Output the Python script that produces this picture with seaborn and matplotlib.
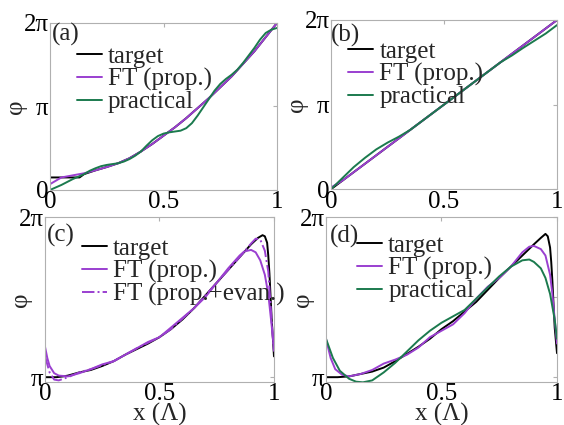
import numpy as np
import pandas as pd
import matplotlib
matplotlib.use("Agg")
import matplotlib.pyplot as plt
import seaborn as sns

# ---------------- data (phase values in units of pi) ----------------
x21 = [0, 0.05, 0.1, 0.15, 0.2, 0.25, 0.3, 0.35, 0.4, 0.45, 0.5,
       0.55, 0.6, 0.65, 0.7, 0.75, 0.8, 0.85, 0.9, 0.95, 1.0]
x41 = [0, 0.025, 0.05, 0.075, 0.1, 0.125, 0.15, 0.175, 0.2, 0.225, 0.25,
       0.275, 0.3, 0.325, 0.35, 0.375, 0.4, 0.425, 0.45, 0.475, 0.5,
       0.525, 0.55, 0.575, 0.6, 0.625, 0.65, 0.675, 0.7, 0.725, 0.75,
       0.775, 0.8, 0.825, 0.85, 0.875, 0.9, 0.925, 0.95, 0.975, 1.0]

# panel (a)
xa_target = [0, 0.13] + x21[3:]
target_a = [0.15, 0.15, 0.19, 0.235, 0.275, 0.32, 0.38, 0.46, 0.55, 0.65,
            0.75, 0.86, 0.98, 1.10, 1.23, 1.36, 1.51, 1.66, 1.83, 2.0]
ft_a = [0.07, 0.15, 0.175, 0.2, 0.235, 0.275, 0.32, 0.38, 0.46, 0.55, 0.65,
        0.75, 0.86, 0.98, 1.10, 1.23, 1.36, 1.51, 1.66, 1.83, 2.0]
practical_a = [0.0, 0.03, 0.06, 0.095, 0.13, 0.16, 0.19, 0.23, 0.26, 0.285,
               0.30, 0.31, 0.32, 0.34, 0.37, 0.41, 0.46, 0.53, 0.595, 0.645,
               0.675, 0.69, 0.70, 0.71, 0.74, 0.80, 0.89, 0.99, 1.09, 1.19,
               1.27, 1.33, 1.38, 1.44, 1.52, 1.61, 1.70, 1.80, 1.88, 1.92,
               1.94]

# panel (b)
target_b = [0.0, 0.1, 0.2, 0.3, 0.4, 0.5, 0.6, 0.7, 0.8, 0.9, 1.0,
            1.1, 1.2, 1.3, 1.4, 1.5, 1.6, 1.7, 1.8, 1.9, 2.0]
ft_b = [0.02, 0.1, 0.2, 0.3, 0.4, 0.5, 0.6, 0.7, 0.8, 0.9, 1.0,
        1.1, 1.2, 1.3, 1.4, 1.5, 1.6, 1.7, 1.8, 1.9, 2.0]
practical_b = [0.0, 0.13, 0.26, 0.37, 0.47, 0.55, 0.62, 0.70, 0.80, 0.90, 1.0,
               1.10, 1.20, 1.30, 1.40, 1.50, 1.58, 1.67, 1.755, 1.84, 1.94]

# panel (c)
xc_target = [0, 0.05, 0.08, 0.1, 0.15, 0.2, 0.25, 0.3, 0.35, 0.4, 0.45, 0.5,
             0.55, 0.6, 0.65, 0.7, 0.75, 0.8, 0.85, 0.9, 0.93, 0.95, 0.96,
             0.97, 0.975, 0.98, 0.99, 1.0]
target_c = [1.0, 1.0, 1.005, 1.01, 1.03, 1.045, 1.07, 1.10, 1.14, 1.175, 1.21,
            1.25, 1.30, 1.36, 1.43, 1.51, 1.59, 1.67, 1.75, 1.83, 1.87, 1.887,
            1.88, 1.84, 1.76, 1.65, 1.36, 1.13]
xc_ft = [0, 0.01, 0.02, 0.04, 0.06, 0.1, 0.15, 0.2, 0.25, 0.3, 0.35, 0.4, 0.45,
         0.5, 0.55, 0.6, 0.65, 0.7, 0.75, 0.8, 0.85, 0.87, 0.9, 0.92, 0.94,
         0.96, 0.975, 0.99, 1.0]
ft_c = [1.19, 1.12, 1.07, 1.025, 1.01, 1.005, 1.025, 1.05, 1.08, 1.10, 1.14,
        1.18, 1.22, 1.25, 1.31, 1.37, 1.43, 1.50, 1.59, 1.68, 1.76, 1.785,
        1.795, 1.78, 1.73, 1.64, 1.52, 1.32, 1.17]
xc_ev = [0, 0.02, 0.04, 0.06, 0.08, 0.1, 0.15, 0.2, 0.25, 0.3, 0.35, 0.4, 0.45,
         0.5, 0.55, 0.6, 0.65, 0.7, 0.75, 0.8, 0.85, 0.88, 0.9, 0.92, 0.94,
         0.96, 0.975, 0.99, 1.0]
evan_c = [1.13, 1.03, 0.985, 0.98, 0.99, 1.0, 1.03, 1.05, 1.075, 1.10, 1.14,
          1.18, 1.215, 1.25, 1.30, 1.365, 1.43, 1.51, 1.59, 1.67, 1.75, 1.80,
          1.835, 1.865, 1.86, 1.79, 1.66, 1.35, 1.16]

# panel (d)
xd_target = [0, 0.05, 0.1, 0.15, 0.2, 0.25, 0.3, 0.35, 0.4, 0.45, 0.5, 0.55,
             0.6, 0.65, 0.7, 0.75, 0.8, 0.85, 0.9, 0.93, 0.95, 0.96, 0.97,
             0.975, 0.98, 0.99, 1.0]
target_d = [1.0, 1.0, 1.005, 1.02, 1.035, 1.06, 1.10, 1.145, 1.19, 1.24, 1.30,
            1.35, 1.41, 1.47, 1.545, 1.62, 1.69, 1.76, 1.83, 1.87, 1.895,
            1.88, 1.81, 1.72, 1.60, 1.31, 1.15]
xd_ft = [0, 0.02, 0.04, 0.07, 0.1, 0.15, 0.2, 0.25, 0.3, 0.35, 0.4, 0.45, 0.5,
         0.55, 0.6, 0.65, 0.7, 0.75, 0.8, 0.85, 0.88, 0.9, 0.93, 0.95, 0.97,
         0.98, 0.99, 1.0]
ft_d = [1.24, 1.12, 1.05, 1.015, 1.005, 1.02, 1.045, 1.085, 1.11, 1.14, 1.185,
        1.25, 1.29, 1.33, 1.40, 1.49, 1.565, 1.62, 1.69, 1.78, 1.815, 1.82,
        1.80, 1.76, 1.64, 1.52, 1.36, 1.21]
xd_pr = [0, 0.03, 0.06, 0.1, 0.13, 0.16, 0.2, 0.25, 0.3, 0.35, 0.4, 0.45, 0.5,
         0.55, 0.6, 0.65, 0.7, 0.75, 0.8, 0.85, 0.88, 0.9, 0.93, 0.95, 0.97,
         0.99, 1.0]
practical_d = [1.24, 1.12, 1.04, 0.99, 0.972, 0.968, 0.98, 1.03, 1.09, 1.16,
               1.23, 1.29, 1.34, 1.38, 1.42, 1.49, 1.56, 1.63, 1.69, 1.73,
               1.735, 1.72, 1.68, 1.62, 1.52, 1.36, 1.24]

x_ticks = [0, 0.5, 1]
x_tick_labels = ["0", "0.5", "1"]
y_ticks_top = [0, 1, 2]
y_tick_labels_top = ["0", "π", "2π"]
y_ticks_bot = [1, 1.5, 2]
y_tick_labels_bot = ["π", "", "2π"]

# ---------------- style ----------------
sns.set_style("white")
plt.rcParams["font.family"] = ["Liberation Serif", "DejaVu Serif"]

BLACK = "#000000"
PURPLE = "#9a3fd0"
GREEN = "#1b7a4e"
SPINE = "#b0b0b0"
FS = 18
LW = 1.4

fig = plt.figure(figsize=(5.64, 4.25), dpi=100)
ax_a = fig.add_axes([0.0887, 0.553, 0.4025, 0.393])
ax_b = fig.add_axes([0.587, 0.555, 0.4007, 0.398])
ax_c = fig.add_axes([0.0798, 0.1012, 0.406, 0.388])
ax_d = fig.add_axes([0.578, 0.1012, 0.4096, 0.388])


def line(ax, x, y, color, label, ls="-"):
    df = pd.DataFrame({"x": x, "y": y})
    sns.lineplot(data=df, x="x", y="y", ax=ax, color=color, label=label,
                 lw=LW, linestyle=ls, estimator=None, sort=False)


line(ax_a, xa_target, target_a, BLACK, "target")
line(ax_a, x21, ft_a, PURPLE, "FT (prop.)")
line(ax_a, x41, practical_a, GREEN, "practical")

line(ax_b, x21, target_b, BLACK, "target")
line(ax_b, x21, ft_b, PURPLE, "FT (prop.)")
line(ax_b, x21, practical_b, GREEN, "practical")

line(ax_c, xc_target, target_c, BLACK, "target")
line(ax_c, xc_ft, ft_c, PURPLE, "FT (prop.)")
line(ax_c, xc_ev, evan_c, PURPLE, "FT (prop.+evan.)", ls="-.")

line(ax_d, xd_target, target_d, BLACK, "target")
line(ax_d, xd_ft, ft_d, PURPLE, "FT (prop.)")
line(ax_d, xd_pr, practical_d, GREEN, "practical")

# (axes, panel label, label pos, legend pos, top row?, ylabel x)
panels = [
    (ax_a, "(a)", (0.01, 0.93), (0.118, 0.866), True, -0.10),
    (ax_b, "(b)", (0.0, 0.91), (0.075, 0.88), True, -0.10),
    (ax_c, "(c)", (0.01, 0.89), (0.16, 0.878), False, -0.057),
    (ax_d, "(d)", (0.015, 0.88), (0.134, 0.895), False, -0.05),
]

for ax, lab, lab_pos, leg_pos, top, ylx in panels:
    ax.set_xlim(0, 1)
    if top:
        ax.set_ylim(0, 2)
        ax.set_yticks(y_ticks_top)
        ax.set_yticklabels(y_tick_labels_top)
        ax.set_xlabel("")
    else:
        ax.set_ylim(0.97, 2)
        ax.set_yticks(y_ticks_bot)
        ax.set_yticklabels(y_tick_labels_bot)
        ax.set_xlabel("x (Λ)", fontsize=FS, labelpad=-2)
    ax.set_xticks(x_ticks)
    ax.set_xticklabels(x_tick_labels)
    ax.set_ylabel("φ", fontsize=FS)
    ax.yaxis.set_label_coords(ylx, 0.5)
    ax.tick_params(direction="in", length=3, width=0.8, color=SPINE,
                   labelsize=FS, pad=1, top=True, right=True,
                   labelcolor="black")
    for s in ax.spines.values():
        s.set_color(SPINE)
        s.set_linewidth(0.8)
    ax.text(lab_pos[0], lab_pos[1], lab, transform=ax.transAxes,
            fontsize=FS, va="center", ha="left")
    ax.legend(loc="upper left", bbox_to_anchor=leg_pos, frameon=False,
              fontsize=FS, handlelength=1.0, handletextpad=0.25,
              labelspacing=0.0, borderpad=0, borderaxespad=0)

fig.savefig("out.png", dpi=100)
